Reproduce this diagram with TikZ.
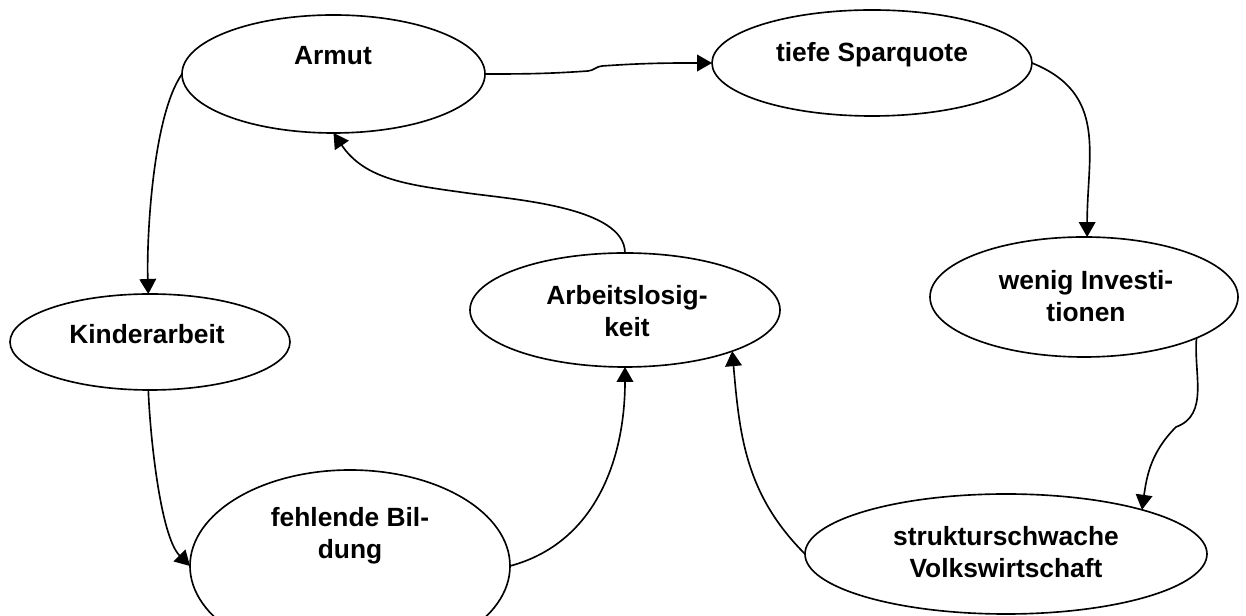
\documentclass[tikz,border=0pt]{standalone}
\usepackage{fontspec}
\setmainfont{Liberation Sans}
\usetikzlibrary{arrows.meta,shapes.geometric}

\begin{document}
\begin{tikzpicture}[x=0.03cm,y=0.03cm,>={Triangle[length=4.5mm,width=5mm]},
  bubble/.style={draw,ellipse,line width=1.4pt,inner sep=0pt,outer sep=0pt},
  txt/.style={align=center,font=\fontsize{22.5}{27.3}\selectfont\bfseries},
  link/.style={->,line width=1.4pt}]
  \def\px{0.03cm}
  \useasboundingbox (0,0) rectangle (1246,616);
  % Ellipsen
  \node[bubble,minimum width=303*\px,minimum height=118*\px] (armut) at (333.5,542) {};
  \node[bubble,minimum width=320*\px,minimum height=106*\px] (spar) at (872,553) {};
  \node[bubble,minimum width=308*\px,minimum height=120*\px] (invest) at (1084,319) {};
  \node[bubble,minimum width=280*\px,minimum height=96*\px] (kinder) at (150,274) {};
  \node[bubble,minimum width=310*\px,minimum height=114*\px] (arbeit) at (625,306) {};
  \node[bubble,minimum width=320*\px,minimum height=192*\px] (bildung) at (350,50) {};
  \node[bubble,minimum width=402*\px,minimum height=120*\px] (struktur) at (1006,62) {};
  % Texte
  \node[txt] (t-armut) at (333,560) {Armut};
  \node[txt] (t-spar) at (872,561) {tiefe Sparquote};
  \node[txt] (t-invest) at (1086,320) {wenig Investi-\\tionen};
  \node[txt] (t-kinder) at (147,282) {Kinderarbeit};
  \node[txt] (t-arbeit) at (627,305) {Arbeitslosig-\\keit};
  \node[txt] (t-bildung) at (350,80) {fehlende Bil-\\dung};
  \node[txt] (t-struktur) at (1006,64) {strukturschwache\\Volkswirtschaft};
  % Knicke
  \coordinate (kA) at (588,545);
  \coordinate (kB) at (602,550);
  \coordinate (kC) at (1176,189);
  \coordinate (kD) at (467,423);
  % Pfeile
  \draw[link] (armut.east) to[out=0,in=184] (kA) to[out=4,in=184] (kB) to[out=4,in=180] (spar.west);
  \draw[link] (spar.east) to[out=-22,in=90,looseness=1.15] (invest.87);
  \draw[link] (invest.-20) to[out=-95,in=20] (kC) to[out=225,in=82] (struktur.18);
  \draw[link] (struktur.west) to[out=135,in=-85] (arbeit.-21);
  \draw[link] (arbeit.north) to[out=90,in=-8,looseness=0.7] (kD) to[out=172,in=-56] (armut.south);
  \draw[link] (armut.west) to[out=235,in=92,looseness=0.6] (kinder.92);
  \draw[link] (kinder.-92) to[out=-88,in=135,looseness=0.6] (bildung.west);
  \draw[link] (bildung.east) to[out=15,in=-90] (arbeit.south);
\end{tikzpicture}
\end{document}
